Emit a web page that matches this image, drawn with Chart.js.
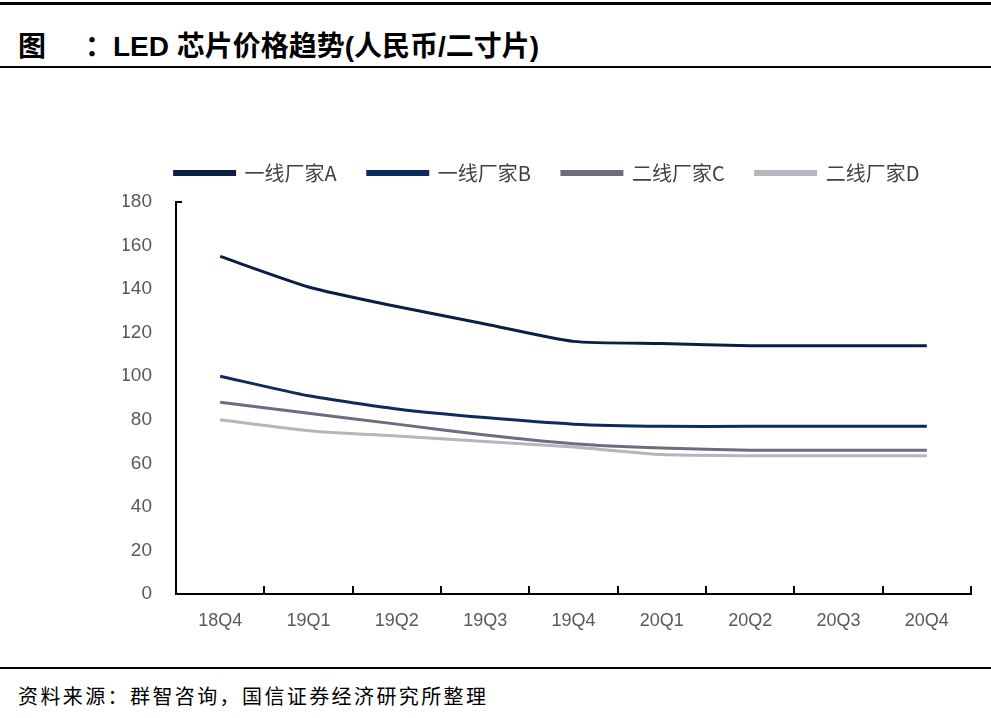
<!DOCTYPE html>
<html>
<head>
<meta charset="utf-8">
<script src="https://cdn.jsdelivr.net/npm/chart.js@4"></script>
<style>
  body{margin:0;background:#fff;width:991px;height:718px;position:relative;overflow:hidden;font-family:"Liberation Sans","Noto Sans CJK SC",sans-serif}
  .rule{position:absolute;left:0;width:991px;background:#000}
  #title{position:absolute;left:18px;top:24px;font-size:28px;font-weight:bold;color:#000;font-family:"Liberation Sans","Noto Sans CJK SC",sans-serif;white-space:pre}
  #src{position:absolute;left:18px;top:681px;font-size:20px;letter-spacing:2.4px;color:#000;font-family:"Noto Sans CJK SC",sans-serif}
  #wrap{position:absolute;left:0;top:140px;width:991px;height:520px}
</style>
</head>
<body>
<div class="rule" style="top:2px;height:3px"></div>
<div id="title">图     ：LED 芯片价格趋势(人民币/二寸片)</div>
<div class="rule" style="top:66px;height:2px"></div>
<div id="wrap"><canvas id="c"></canvas></div>
<div class="rule" style="top:667px;height:2px"></div>
<div id="src">资料来源：群智咨询，国信证券经济研究所整理</div>
<script>
const quarters = ['18Q4','19Q1','19Q2','19Q3','19Q4','20Q1','20Q2','20Q3','20Q4'];
const seriesNames = ['一线厂家A','一线厂家B','二线厂家C','二线厂家D'];
const tierA = [155, 141, 132, 124, 116, 115, 114, 114, 114];
const tierB = [100, 91, 85, 81, 78, 77, 77, 77, 77];
const tierC = [88, 83, 78, 73, 69, 67, 66, 66, 66];
const tierD = [80, 75, 72.5, 70, 67.5, 64, 63.5, 63.5, 63.5];
const colors = ['#0b1f45', '#0d2b5c', '#6b6e7e', '#b5b6bd'];

// tick marks between categories on the x axis, pointing up
const xTicks = {
  id:'xTicks',
  afterDraw(chart){
    const x = chart.scales.x, ctx = chart.ctx;
    const step = x.getPixelForValue(1) - x.getPixelForValue(0);
    ctx.save();
    ctx.strokeStyle = '#000'; ctx.lineWidth = 2;
    for (let i=0;i<=quarters.length;i++){
      const px = Math.round(x.getPixelForValue(i) - step/2);
      ctx.beginPath(); ctx.moveTo(px, x.top); ctx.lineTo(px, x.top-8); ctx.stroke();
    }
    const y = chart.scales.y;
    ctx.beginPath(); ctx.moveTo(x.left, y.top); ctx.lineTo(x.left+6, y.top); ctx.stroke();
    ctx.restore();
  }
};

// extra room under the legend
const legendGap = {
  id:'legendGap',
  beforeInit(chart){
    const fit = chart.legend.fit;
    chart.legend.fit = function(){ fit.call(this); this.height += 9; };
  }
};

const all = [tierA, tierB, tierC, tierD];
new Chart(document.getElementById('c'), {
  type:'line',
  data:{
    labels: quarters,
    datasets: all.map((d,i)=>({
      label: seriesNames[i], data: d,
      borderColor: colors[i], backgroundColor: colors[i],
      borderWidth: 3, pointRadius: 0, tension: 0.2
    }))
  },
  options:{
    responsive:true, maintainAspectRatio:false, animation:false,
    layout:{padding:{left:123, right:20, top:-8, bottom:0}},
    plugins:{
      tooltip:{enabled:false},
      legend:{
        labels:{
          boxWidth:60, boxHeight:3, padding:31, color:'#404040',
          font:{family:'"Noto Sans CJK SC", sans-serif', size:20}
        }
      }
    },
    scales:{
      x:{
        offset:true,
        grid:{display:false},
        border:{color:'#000', width:2},
        ticks:{color:'#595959', padding:8, maxRotation:0,
          font:{family:'"Liberation Sans Narrow","Liberation Sans",sans-serif', size:18}},
        afterFit(s){ s.height = 66; }
      },
      y:{
        min:0, max:180,
        grid:{display:false},
        border:{color:'#000', width:2},
        ticks:{stepSize:20, color:'#595959', padding:16,
          font:{family:'"Liberation Sans",sans-serif', size:19}},
        afterFit(s){ s.width = 53; }
      }
    }
  },
  plugins:[xTicks, legendGap]
});
</script>
</body>
</html>
